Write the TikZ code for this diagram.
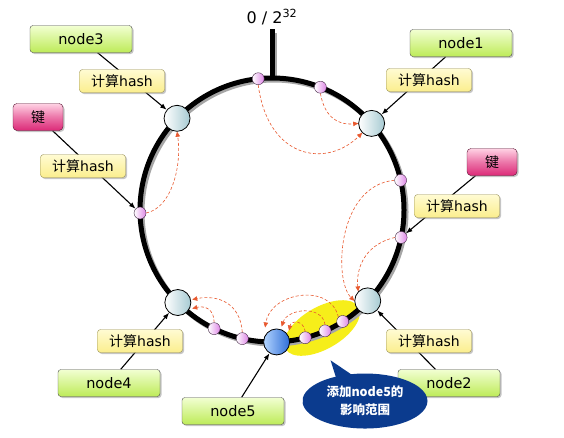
\documentclass[tikz,border=0pt]{standalone}
\usepackage{fontspec}
\setmainfont{DejaVu Sans}
\newfontfamily\cjk{Noto Sans CJK SC}
\usetikzlibrary{calc,shapes.geometric,shapes.callouts,shadows,arrows.meta,backgrounds}

\definecolor{greentop}{HTML}{F2FFD2}
\definecolor{greenbot}{HTML}{BDEB58}
\definecolor{hashtop}{HTML}{FFFBD2}
\definecolor{hashbot}{HTML}{FBEE8E}
\definecolor{keytop}{HTML}{FFD2E4}
\definecolor{keybot}{HTML}{DC2A78}
\definecolor{servright}{HTML}{A6CAD2}
\definecolor{newright}{HTML}{2F6ED6}
\definecolor{newleft}{HTML}{B2D4FF}
\definecolor{dotright}{HTML}{DE86E6}
\definecolor{moveline}{HTML}{E8582E}
\definecolor{noteblue}{HTML}{0B3B8E}
\definecolor{spot}{HTML}{F6EE1A}

\tikzset{
  softshadow/.style={drop shadow={shadow xshift=1.5pt,shadow yshift=-1.5pt,opacity=0.45}},
  namebox/.style={rounded corners=3pt,draw=black!70,top color=greentop,bottom color=greenbot,
    minimum width=102pt,minimum height=27pt,inner sep=0pt,softshadow,
    font=\fontsize{14.5}{16}\selectfont},
  hashbox/.style={rounded corners=3pt,draw=black!40!hashbot,top color=hashtop,bottom color=hashbot,
    minimum width=85pt,minimum height=23pt,inner sep=0pt,softshadow,
    font=\fontsize{14}{16}\selectfont},
  keybox/.style={rounded corners=4pt,draw=black!60!keybot,top color=keytop,bottom color=keybot,
    middle color=keybot!55!keytop,minimum width=50pt,minimum height=27pt,inner sep=0pt,softshadow,
    font=\cjk\fontsize{14}{16}\selectfont},
  server/.style={circle,draw=black,thick,left color=white,right color=servright,
    minimum size=26pt,inner sep=0pt},
  newserver/.style={server,left color=newleft,right color=newright},
  dot/.style={circle,draw=black!70!dotright,left color=white,right color=dotright,
    minimum size=12pt,inner sep=0pt},
  ringline/.style={line width=5pt},
  ringshade/.style={line width=5pt,black!35},
  moveto/.style={moveline,line width=0.6pt,dash pattern=on 3pt off 2pt,
    -{Triangle[length=5pt,width=4.5pt]}},
  hashto/.style={line width=1.1pt,-{Latex[length=6.5pt,width=5pt]}}
}

\begin{document}
\begin{tikzpicture}[x=1pt,y=-1pt]
\useasboundingbox (0,0) rectangle (564,437);
\coordinate (c) at (272,210);

% servers on the ring
\foreach \a/\n in {-41/1,43.5/2,-136/3,135.5/4}
  \node[server] (s\n) at ($(c)+(\a:132)$) {};
\node[newserver] (s5) at ($(c)+(88:132)$) {};

% keys on the ring
\foreach \a/\n in {-96/1,-68.5/2,-13/3,12/4,57.6/5,66.3/6,75.4/7,103/8,116/9,178.7/10}
  \node[dot] (d\n) at ($(c)+(\a:132)$) {};

\node[font=\fontsize{16}{18}\selectfont] (zero) at (272,17) {0 / 2\textsuperscript{32}};

% boxes
\node[namebox] (g3) at (81,39) {node3};
\node[hashbox] (h3) at (122,81) {{\cjk 计算}hash};
\node[keybox] (kl) at (38,117) {键};
\node[hashbox] (hl) at (83,166) {{\cjk 计算}hash};
\node[namebox] (g1) at (461,43) {node1};
\node[hashbox] (h1) at (429,80) {{\cjk 计算}hash};
\node[keybox] (kr) at (492,162) {键};
\node[hashbox] (hr) at (457,206) {{\cjk 计算}hash};
\node[namebox] (g4) at (109,383) {node4};
\node[hashbox] (h4) at (140,341) {{\cjk 计算}hash};
\node[namebox] (g2) at (449,383) {node2};
\node[hashbox] (h2) at (429,341) {{\cjk 计算}hash};
\node[namebox] (g5) at (233,411) {node5};

\begin{pgfonlayer}{background}
  \fill[white] (0,0) rectangle (564,437);
  \node[ellipse,fill=spot,minimum width=84pt,minimum height=42pt,rotate=30] (area) at (322,328) {};
  \coordinate (top) at ($(c)+(-90:132)$);
  \draw[ringshade] ($(c)+(2,2)$) circle[radius=132];
  \draw[ringshade] ($(top)+(2,0)$) -- ($(zero.south)+(2,4)$);
  \draw[ringline] (c) circle[radius=132];
  \draw[ringline] (top) -- (zero.south);

  % keys move to next server
  \draw[moveto] (d1.south) .. controls +(10,75) and +(-35,35) .. (s1.south west);
  \draw[moveto] (d2.south) .. controls +(4,22) and +(-22,2) .. (s1.west);
  \draw[moveto] (d10.east) .. controls +(25,-5) and +(5,35) .. (s3.south);
  \draw[moveto] (d3.west) .. controls +(-57,5) and +(-21,-21) .. (s2.west);
  \draw[moveto] (d4.west) .. controls +(-34,8) and +(-2,-18) .. (s2.north west);
  \draw[moveto] (d9.north) .. controls +(0,-14) and +(12,-3) .. ($(s4.east)+(1,6)$);
  \draw[moveto] (d8.north) .. controls +(-2,-30) and +(25,-5) .. ($(s4.east)+(1,-3)$);
  \draw[moveto] (d5.north west) .. controls +(-8,-35) and +(5,-35) .. ($(s5.north west)+(-2,-5)$);
  \draw[moveto] (d6.north) .. controls +(-3,-20) and +(6,-18) .. ($(s5.north)+(5,-2)$);
  \draw[moveto] (d7.north) .. controls +(-2,-12) and +(2,-10) .. ($(s5.north east)+(3,-2)$);

  % hash arrows
  \draw[hashto] (g3) -- (s3);
  \draw[hashto] (kl) -- (d10);
  \draw[hashto] (g1) -- (s1);
  \draw[hashto] (kr) -- (d4);
  \draw[hashto] (g2) -- (s2);
  \draw[hashto] (g4) -- (s4);
  \draw[hashto] (g5) -- (s5);
\end{pgfonlayer}

\coordinate (tip) at ($(area.south)+(-2,14)$);
\node[ellipse callout,fill=noteblue,text=white,callout absolute pointer={(tip)},
  minimum width=125pt,minimum height=55pt,inner sep=0pt,align=center,
  font=\cjk\bfseries\fontsize{12.5}{18}\selectfont] (note) at (365,401) {添加node5的\\影响范围};
\end{tikzpicture}
\end{document}
